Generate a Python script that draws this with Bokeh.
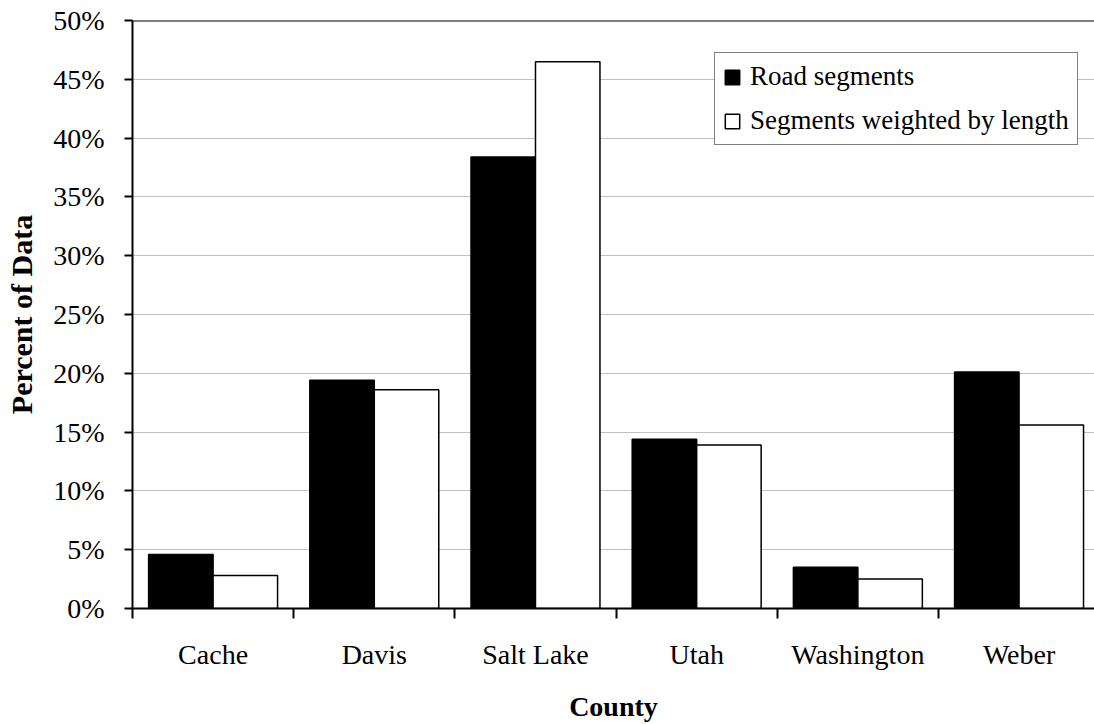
from bokeh.plotting import figure
from bokeh.models import (Range1d, FixedTicker, CustomJSTickFormatter, PrintfTickFormatter,
                          Span, Legend, LegendItem, ColumnDataSource)
from bokeh.transform import dodge
from bokeh.embed import file_html
from bokeh.resources import INLINE

counties = ["Cache", "Davis", "Salt Lake", "Utah", "Washington", "Weber"]
road_segments = [4.6, 19.4, 38.4, 14.4, 3.5, 20.1]
weighted_by_length = [2.8, 18.6, 46.5, 13.9, 2.5, 15.6]
y_ticks = [0, 5, 10, 15, 20, 25, 30, 35, 40, 45, 50]

FONT = "Liberation Serif"

src = ColumnDataSource(dict(x=list(range(len(counties))), county=counties,
                            road=road_segments, weighted=weighted_by_length))

p = figure(width=1094, height=724, output_backend="svg", toolbar_location=None,
           x_range=Range1d(-0.5, 5.468), y_range=Range1d(0, 50),
           min_border_left=132, min_border_top=20, min_border_bottom=115, min_border_right=0)
p.outline_line_color = None
p.background_fill_color = "white"
p.border_fill_color = "white"

r1 = p.vbar(x=dodge("x", -0.2, range=p.x_range), top="road", width=0.4, source=src,
            fill_color="black", line_color="black", line_width=1.5)
r2 = p.vbar(x=dodge("x", 0.2, range=p.x_range), top="weighted", width=0.4, source=src,
            fill_color="white", line_color="black", line_width=1.5)

# y axis
p.yaxis.ticker = FixedTicker(ticks=y_ticks)
p.yaxis.formatter = PrintfTickFormatter(format="%d%%")
p.yaxis.axis_line_width = 2
p.yaxis.major_tick_line_width = 2
p.yaxis.major_tick_out = 8
p.yaxis.major_tick_in = 0
p.yaxis.minor_tick_line_color = None
p.yaxis.major_label_text_font = FONT
p.yaxis.major_label_text_font_size = "28px"
p.yaxis.major_label_text_color = "black"
p.yaxis.major_label_standoff = 20
p.yaxis.axis_label = "Percent of Data"
p.yaxis.axis_label_text_font = FONT
p.yaxis.axis_label_text_font_size = "30px"
p.yaxis.axis_label_text_font_style = "bold"
p.yaxis.axis_label_text_color = "black"
p.yaxis.axis_label_standoff = 12

# x axis
p.xaxis.ticker = FixedTicker(ticks=list(range(len(counties))),
                             minor_ticks=[i - 0.5 for i in range(len(counties) + 1)])
p.xaxis.formatter = CustomJSTickFormatter(args=dict(names=counties),
                                          code="const i = Math.round(tick); return names[i] ?? '';")
p.xaxis.axis_line_width = 2
p.xaxis.major_tick_line_color = None
p.xaxis.major_tick_out = 0
p.xaxis.major_tick_in = 0
p.xaxis.minor_tick_line_width = 2
p.xaxis.minor_tick_out = 10
p.xaxis.minor_tick_in = 0
p.xaxis.major_label_text_font = FONT
p.xaxis.major_label_text_font_size = "28px"
p.xaxis.major_label_text_color = "black"
p.xaxis.major_label_standoff = 20
p.xaxis.axis_label = "County"
p.xaxis.axis_label_text_font = FONT
p.xaxis.axis_label_text_font_size = "28px"
p.xaxis.axis_label_text_font_style = "bold"
p.xaxis.axis_label_text_color = "black"
p.xaxis.axis_label_standoff = 18

# grid
p.xgrid.grid_line_color = None
p.ygrid.ticker = FixedTicker(ticks=y_ticks)
p.ygrid.grid_line_color = "#808080"
p.ygrid.grid_line_dash = "1 1"
p.ygrid.grid_line_width = 1

# top border line
p.add_layout(Span(location=50, dimension="width", line_color="black", line_width=2))

legend = Legend(items=[LegendItem(label="Road segments", renderers=[r1]),
                       LegendItem(label="Segments weighted by length", renderers=[r2])],
                location=(582, 463))
legend.label_text_font = FONT
legend.label_text_font_size = "27px"
legend.label_text_color = "black"
legend.glyph_width = 18
legend.glyph_height = 18
legend.label_standoff = 9
legend.padding = 8
legend.spacing = 13
legend.margin = 0
legend.border_line_color = "black"
legend.border_line_width = 1.5
legend.background_fill_alpha = 1.0
p.add_layout(legend)

open("out.html", "w").write(file_html(p, INLINE))
